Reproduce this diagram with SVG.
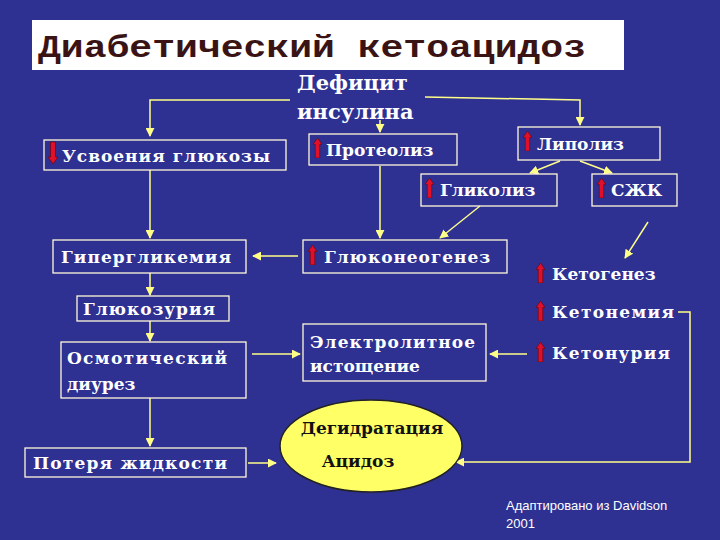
<svg xmlns="http://www.w3.org/2000/svg" width="720" height="540" viewBox="0 0 720 540">
<defs>
<style>
.b{fill:none;stroke:#fff8d8;stroke-width:1.3}
.t{font-family:"DejaVu Serif",serif;font-weight:bold;font-size:17px;fill:#fff}
.c line,.c polyline{stroke:#ffff88;stroke-width:1.5;fill:none}
.c line.a,.c polyline.a{marker-end:url(#ah)}
</style>
<marker id="ah" viewBox="0 0 10 10" refX="9" refY="5" markerWidth="6" markerHeight="6" orient="auto"><path d="M0,0L10,5L0,10z" fill="#ffff88"/></marker>
<symbol id="up" viewBox="0 0 10 22"><path d="M5,0L10,7H7.5V22H2.5V7H0z" fill="#e0102a" stroke="#600" stroke-width="0.6"/></symbol>
<symbol id="dn" viewBox="0 0 10 22"><path d="M5,22L10,15H7.5V0H2.5V15H0z" fill="#e0102a" stroke="#600" stroke-width="0.6"/></symbol>
</defs>
<rect width="720" height="540" fill="#2e3192"/>
<g id="title"><rect x="32" y="20" width="592" height="50" fill="#fff"/><text x="38" y="57" font-family="'Liberation Mono',monospace" font-weight="bold" font-size="32" fill="#3a1414" textLength="548" lengthAdjust="spacingAndGlyphs">Диабетический кетоацидоз</text></g>
<g class="c">
<polyline class="a" points="290,100 150,100 150,136"/>
<polyline class="a" points="425,97 580,100 580,125"/>
<line class="a" x1="380" y1="120" x2="380" y2="132"/>
<line class="a" x1="560" y1="161" x2="530" y2="173"/>
<line class="a" x1="580" y1="161" x2="612" y2="173"/>
<line class="a" x1="150" y1="170" x2="150" y2="238"/>
<line class="a" x1="380" y1="166" x2="380" y2="238"/>
<line class="a" x1="480" y1="206" x2="440" y2="238"/>
<line class="a" x1="648" y1="222" x2="625" y2="258"/>
<line class="a" x1="298" y1="256" x2="253" y2="256"/>
<line class="a" x1="150" y1="273" x2="150" y2="295"/>
<line class="a" x1="150" y1="321" x2="150" y2="341"/>
<line class="a" x1="252" y1="354" x2="300" y2="354"/>
<line class="a" x1="527" y1="354" x2="490" y2="354"/>
<line class="a" x1="150" y1="398" x2="150" y2="446"/>
<line class="a" x1="248" y1="463" x2="276" y2="463"/>
<polyline class="a" points="678,312 690,312 690,462 456,462"/>
</g>
<g id="deficit"><text class="t" x="297" y="90" style="font-size:21px">Дефицит</text><text class="t" x="297" y="119" style="font-size:21px">инсулина</text></g>
<g id="usvoenie"><rect class="b" x="44" y="140" width="242" height="30"/><use href="#dn" x="48" y="140" width="10" height="26"/><text class="t" x="62" y="162" textLength="208">Усвоения глюкозы</text></g>
<g id="proteoliz"><rect class="b" x="309" y="134" width="148" height="31"/><use href="#up" x="313" y="138" width="9" height="20"/><text class="t" x="326" y="156">Протеолиз</text></g>
<g id="lipoliz"><rect class="b" x="518" y="127" width="142" height="33"/><use href="#up" x="523" y="131" width="9" height="20"/><text class="t" x="537" y="150">Липолиз</text></g>
<g id="glikoliz"><rect class="b" x="421" y="174" width="136" height="32"/><use href="#up" x="425" y="178" width="9" height="20"/><text class="t" x="440" y="196">Гликолиз</text></g>
<g id="szhk"><rect class="b" x="592" y="174" width="85" height="32"/><use href="#up" x="597" y="178" width="9" height="20"/><text class="t" x="611" y="196">СЖК</text></g>
<g id="giperglikemia"><rect class="b" x="53" y="240" width="193" height="33"/><text class="t" x="61" y="263" textLength="170">Гипергликемия</text></g>
<g id="glukoneogenez"><rect class="b" x="303" y="240" width="204" height="33"/><use href="#up" x="308" y="245" width="9" height="20"/><text class="t" x="324" y="263" textLength="166">Глюконеогенез</text></g>
<g id="ketogenez"><use href="#up" x="536" y="263" width="9" height="20"/><text class="t" x="552" y="280">Кетогенез</text></g>
<g id="glukozuria"><rect class="b" x="77" y="296" width="152" height="25"/><text class="t" x="83" y="315" textLength="132">Глюкозурия</text></g>
<g id="ketonemia"><use href="#up" x="536" y="301" width="9" height="20"/><text class="t" x="552" y="318" textLength="122">Кетонемия</text></g>
<g id="osmotic"><rect class="b" x="61" y="342" width="185" height="56"/><text class="t" x="67" y="364" textLength="160">Осмотический</text><text class="t" x="67" y="390">диурез</text></g>
<g id="electrolyte"><rect class="b" x="303" y="324" width="183" height="57"/><text class="t" x="310" y="348" textLength="165">Электролитное</text><text class="t" x="310" y="372">истощение</text></g>
<g id="ketonuria"><use href="#up" x="536" y="342" width="9" height="20"/><text class="t" x="552" y="359" textLength="118">Кетонурия</text></g>
<g id="poterya"><rect class="b" x="25" y="448" width="221" height="29"/><text class="t" x="33" y="469" textLength="194">Потеря жидкости</text></g>
<g id="dehyd"><ellipse cx="371" cy="446" rx="91" ry="46" fill="#ffff66" stroke="#222" stroke-width="1.5"/><text class="t" x="372" y="434" style="fill:#111" text-anchor="middle">Дегидратация</text><text class="t" x="358" y="467" style="fill:#111" text-anchor="middle">Ацидоз</text></g>
<g id="note" font-family="'Liberation Sans',sans-serif" font-size="13" fill="#fff"><text x="506" y="510">Адаптировано из Davidson</text><text x="506" y="528">2001</text></g>
</svg>
